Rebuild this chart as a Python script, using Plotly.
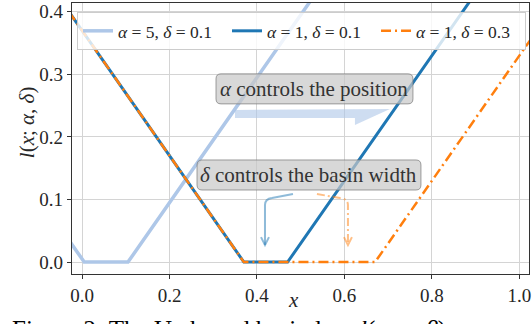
import plotly.graph_objects as go

# ---- data (breakpoints of the piecewise-linear basin losses) ----
x_a5_d01 = [-0.03, 0.005, 0.105, 0.53]
y_a5_d01 = [0.035, 0.0, 0.0, 0.425]
x_a1_d01 = [-0.03, 0.37, 0.47, 0.90]
y_a1_d01 = [0.40, 0.0, 0.0, 0.43]
x_a1_d03 = [-0.03, 0.37, 0.67, 1.03]
y_a1_d03 = [0.40, 0.0, 0.0, 0.36]
series_names = ["<i>α</i> = 5, <i>δ</i> = 0.1",
                "<i>α</i> = 1, <i>δ</i> = 0.1",
                "<i>α</i> = 1, <i>δ</i> = 0.3"]
x_ticks = [0.0, 0.2, 0.4, 0.6, 0.8, 1.0]
y_ticks = [0.0, 0.1, 0.2, 0.3, 0.4]

FONT = "Liberation Serif"
TXT = "#262626"

fig = go.Figure()
fig.add_trace(go.Scatter(x=x_a5_d01, y=y_a5_d01, mode="lines", name=series_names[0],
                         line=dict(color="#aec7e8", width=3.5)))
fig.add_trace(go.Scatter(x=x_a1_d01, y=y_a1_d01, mode="lines", name=series_names[1],
                         line=dict(color="#1f77b4", width=3)))
fig.add_trace(go.Scatter(x=x_a1_d03, y=y_a1_d03, mode="lines", name=series_names[2],
                         line=dict(color="#ff7f0e", width=2.5, dash="10px,4px,2px,4px")))


def rounded_rect(x0, x1, y0, y1, rx, ry):
    return (f"M {x0+rx},{y0} L {x1-rx},{y0} Q {x1},{y0} {x1},{y0+ry} "
            f"L {x1},{y1-ry} Q {x1},{y1} {x1-rx},{y1} L {x0+rx},{y1} "
            f"Q {x0},{y1} {x0},{y1-ry} L {x0},{y0+ry} Q {x0},{y0} {x0+rx},{y0} Z")


rx, ry = 5 / 437.5, 5 / 625
shapes = [
    # alpha arrow (wide, light blue)
    dict(type="path", xref="x", yref="y", layer="above",
         path="M 0.3497,0.2432 L 0.704,0.2448 L 0.624,0.2192 L 0.624,0.2304 L 0.3497,0.2304 Z",
         fillcolor="rgba(174,199,232,0.6)", line=dict(width=0)),
    # boxes
    dict(type="path", xref="x", yref="y", layer="above",
         path=rounded_rect(0.3063, 0.7566, 0.2528, 0.3008, rx, ry),
         fillcolor="rgba(200,200,200,0.7)", line=dict(color="rgba(120,120,120,0.7)", width=1)),
    dict(type="path", xref="x", yref="y", layer="above",
         path=rounded_rect(0.2629, 0.7749, 0.1152, 0.1632, rx, ry),
         fillcolor="rgba(200,200,200,0.7)", line=dict(color="rgba(120,120,120,0.7)", width=1)),
    # bent arrows
    dict(type="path", xref="x", yref="y", layer="above",
         path="M 0.4823,0.1088 L 0.4343,0.1024 Q 0.4183,0.1010 0.4183,0.0912 L 0.4183,0.0272",
         line=dict(color="rgba(31,119,180,0.5)", width=2)),
    dict(type="path", xref="x", yref="y", layer="above",
         path="M 0.4092,0.040 L 0.4183,0.0272 L 0.4274,0.040",
         line=dict(color="rgba(31,119,180,0.5)", width=2)),
    dict(type="path", xref="x", yref="y", layer="above",
         path="M 0.5371,0.1088 L 0.5897,0.1024 Q 0.608,0.1010 0.608,0.0912 L 0.608,0.0272",
         line=dict(color="rgba(255,127,14,0.5)", width=2, dash="8px,3px,2px,3px")),
    dict(type="path", xref="x", yref="y", layer="above",
         path="M 0.5989,0.040 L 0.608,0.0272 L 0.6171,0.040",
         line=dict(color="rgba(255,127,14,0.5)", width=2)),
]

annotations = [
    dict(x=0.5314, y=0.2768, xref="x", yref="y", showarrow=False,
         xanchor="center", yanchor="middle",
         text="<i>α</i> controls the position", font=dict(family=FONT, size=21, color="#333")),
    dict(x=0.5189, y=0.1392, xref="x", yref="y", showarrow=False,
         xanchor="center", yanchor="middle",
         text="<i>δ</i> controls the basin width", font=dict(family=FONT, size=21, color="#333")),
    dict(x=-0.098, y=0.561, xref="paper", yref="paper", showarrow=False, textangle=-90,
         xanchor="center", yanchor="middle",
         text="<i>l</i>(<i>x</i>; <i>α</i>, <i>δ</i>)", font=dict(family=FONT, size=21, color=TXT)),
    dict(x=0.484, y=-0.096, xref="paper", yref="paper", showarrow=False,
         xanchor="center", yanchor="middle",
         text="<i>x</i>", font=dict(family=FONT, size=21, color=TXT)),
    dict(x=-0.1357, y=-0.149, xref="paper", yref="paper", showarrow=False,
         xanchor="left", yanchor="top",
         text="Figure 2: The U-shaped basin loss <i>l</i>(<i>x</i>; <i>α</i>, <i>β</i>)",
         font=dict(family=FONT, size=25, color="#000")),
]

axis_common = dict(showgrid=True, gridcolor="#d4d4d4", gridwidth=1, zeroline=False,
                   showline=True, linecolor="#333333", linewidth=1.3, mirror=True,
                   ticks="outside", ticklen=4, tickcolor="#333333", automargin=False,
                   tickfont=dict(family=FONT, size=19, color=TXT))

fig.update_layout(
    width=532, height=324,
    margin=dict(l=72, r=3, t=3, b=50, autoexpand=False),
    plot_bgcolor="white", paper_bgcolor="white",
    showlegend=True,
    legend=dict(orientation="h", x=0.011, y=0.967, xanchor="left", yanchor="top",
                bgcolor="rgba(255,255,255,0.8)", bordercolor="#cccccc", borderwidth=1,
                font=dict(family=FONT, size=17.5, color=TXT),
                entrywidth=104, entrywidthmode="pixels", tracegroupgap=0),
    xaxis=dict(range=[-0.023, 1.022], tickvals=x_ticks,
               ticktext=[f"{v:.1f}" for v in x_ticks], **axis_common),
    yaxis=dict(range=[-0.019, 0.414], tickvals=y_ticks,
               ticktext=[f"{v:.1f}" for v in y_ticks], **axis_common),
    shapes=shapes,
    annotations=annotations,
)

fig.write_html("out.html", config={"displayModeBar": False},
               post_script="document.body.style.margin='0';document.body.style.overflow='hidden';")
